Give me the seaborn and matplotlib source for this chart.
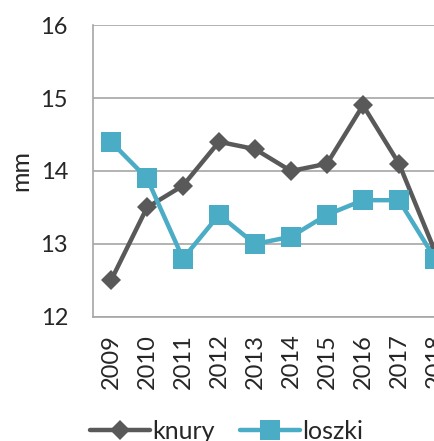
import pandas as pd
import matplotlib.pyplot as plt
import seaborn as sns

years = ['2009', '2010', '2011', '2012', '2013', '2014', '2015', '2016', '2017', '2018']
knury = [12.5, 13.5, 13.8, 14.4, 14.3, 14.0, 14.1, 14.9, 14.1, 12.9]
loszki = [14.4, 13.9, 12.8, 13.4, 13.0, 13.1, 13.4, 13.6, 13.6, 12.8]

df = pd.concat([
    pd.DataFrame({'rok': years, 'mm': knury, 'grupa': 'knury'}),
    pd.DataFrame({'rok': years, 'mm': loszki, 'grupa': 'loszki'}),
])

sns.set_theme(style="white")
plt.rcParams['font.family'] = ['Lato', 'DejaVu Sans']

fig = plt.figure(figsize=(4.35, 4.41), dpi=100)
# axes run past the right edge, as in the cropped original
ax = fig.add_axes([0.2138, 0.2812, 0.8276, 0.6621])

palette = {'knury': '#595959', 'loszki': '#4BACC6'}
sns.lineplot(data=df, x='rok', y='mm', hue='grupa', style='grupa',
             markers={'knury': 'D', 'loszki': 's'}, dashes=False,
             palette=palette, linewidth=3.2, markeredgewidth=0, ax=ax, legend=False)
for line, ms in zip(ax.lines, [10, 14]):
    line.set_markersize(ms)

ax.set_xlim(-0.5, 9.5)
ax.set_ylim(12, 16)
ax.set_yticks([12, 13, 14, 15, 16])
ax.yaxis.grid(True, color='#A6A6A6', linewidth=1.2)
ax.set_axisbelow(True)
for s in ['top', 'right']:
    ax.spines[s].set_visible(False)
for s in ['left', 'bottom']:
    ax.spines[s].set_color('#A6A6A6')
    ax.spines[s].set_linewidth(1.2)

ax.tick_params(axis='y', length=0, pad=18, labelsize=17)
ax.tick_params(axis='x', length=0, pad=12, labelsize=17, labelrotation=90)
ax.set_xlabel('')
ax.set_ylabel('mm', fontsize=18, labelpad=6)

handles = [plt.Line2D([], [], color=palette['knury'], marker='D', markersize=10, lw=3.2, mew=0),
           plt.Line2D([], [], color=palette['loszki'], marker='s', markersize=14, lw=3.2, mew=0)]
fig.legend(handles, ['knury', 'loszki'], loc='lower center', bbox_to_anchor=(0.52, -0.055),
           ncol=2, frameon=False, fontsize=18, handlelength=2.4, handletextpad=0.1,
           columnspacing=1.0)

fig.savefig('out.png', dpi=100)
